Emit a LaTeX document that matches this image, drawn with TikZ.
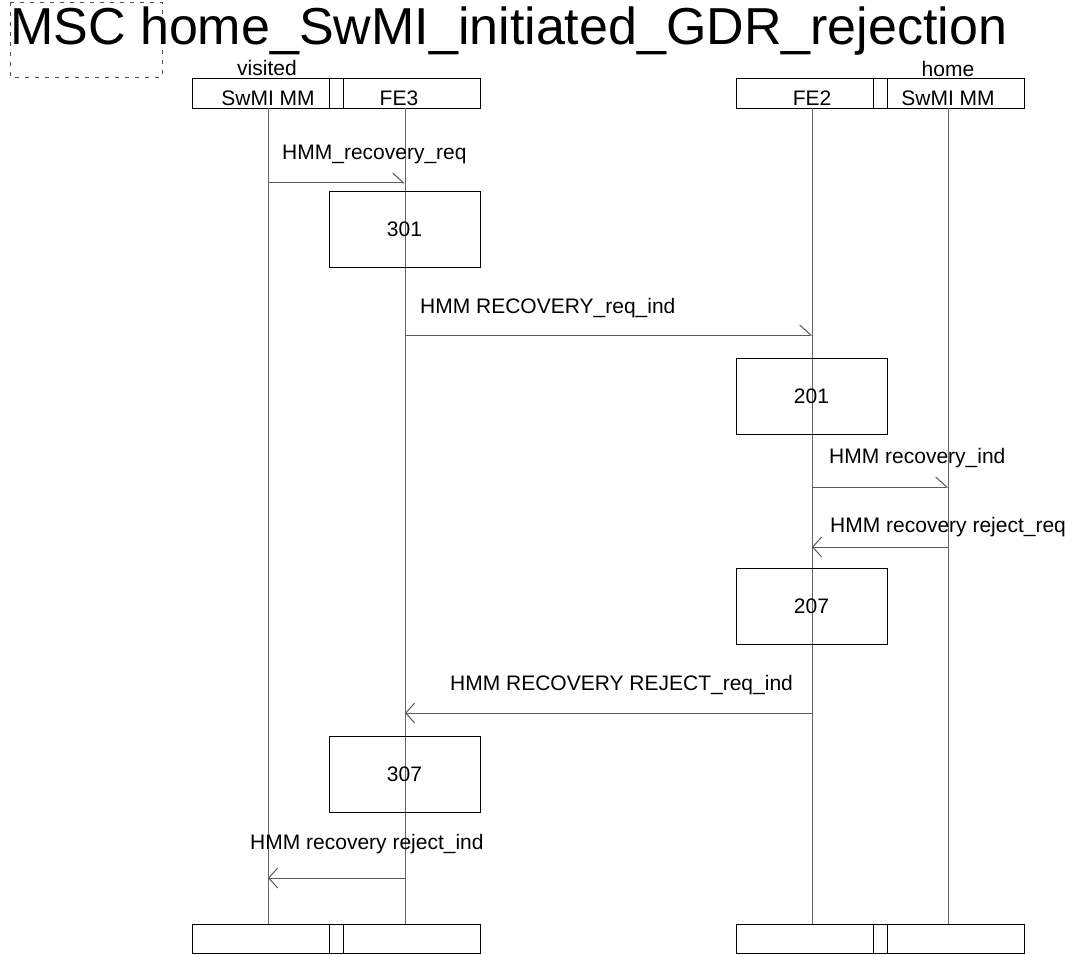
\documentclass[tikz,border=0pt]{standalone}
\usepackage{fontspec}
\setmainfont{Liberation Sans}
\usetikzlibrary{arrows.meta}
\begin{document}
\begin{tikzpicture}[x=1pt,y=-1pt,
  lbl/.style={font=\fontsize{21}{25}\selectfont, inner sep=0pt, anchor=base west},
  ctr/.style={font=\fontsize{21}{25}\selectfont, inner sep=0pt, anchor=base},
  instbox/.style={draw=black, line width=0.9pt},
  actbox/.style={draw=black, line width=0.9pt, minimum width=151pt, minimum height=76pt, inner sep=0pt, font=\fontsize{21}{25}\selectfont},
  life/.style={draw=black!60, line width=1pt},
  msgR/.style={draw=black!65, line width=1pt, -{Straight Barb[left,length=11pt,width=20pt]}},
  msgL/.style={draw=black!65, line width=1pt, -{Straight Barb[length=9pt,width=20pt]}},
]
\useasboundingbox (0,0) rectangle (1077,955);

% title
\draw[black!70, line width=0.8pt, dash pattern=on 4pt off 6pt] (10,2) rectangle (162,77);
\node[font=\fontsize{52}{60}\selectfont, inner sep=0pt, anchor=base west] (title) at (10,45) {MSC home\_SwMI\_initiated\_GDR\_rejection};

% instance heads
\draw[instbox] (192,78) rectangle (480,108);
\draw[instbox] (329,78) rectangle (343,108);
\draw[instbox] (736,78) rectangle (1024,108);
\draw[instbox] (873,78) rectangle (887,108);
\node[ctr] (visited) at (267,76) {visited};
\node[ctr] (home) at (948,77) {home};
\node[ctr] (h1) at (268,106) {SwMI MM};
\node[ctr] (h2) at (399,106) {FE3};
\node[ctr] (h3) at (812,106) {FE2};
\node[ctr] (h4) at (948,106) {SwMI MM};

% instance ends
\draw[instbox] (192,924) rectangle (480,953);
\draw[instbox] (329,924) rectangle (343,953);
\draw[instbox] (736,924) rectangle (1024,953);
\draw[instbox] (873,924) rectangle (887,953);

% lifelines
\coordinate (l1t) at (268,108); \coordinate (l1b) at (268,924);
\coordinate (l2t) at (405,108); \coordinate (l2b) at (405,924);
\coordinate (l3t) at (812,108); \coordinate (l3b) at (812,924);
\coordinate (l4t) at (948,108); \coordinate (l4b) at (948,924);
\draw[life] (l1t) -- (l1b);
\draw[life] (l2t) -- (l2b);
\draw[life] (l3t) -- (l3b);
\draw[life] (l4t) -- (l4b);

% action boxes
\node[actbox] (a301) at (404.5,229) {301};
\node[actbox] (a201) at (811.5,396) {201};
\node[actbox] (a207) at (811.5,606) {207};
\node[actbox] (a307) at (404.5,774) {307};

% messages
\coordinate (m1a) at (268,183); \coordinate (m1b) at (405,183);
\draw[msgR] (m1a) -- (m1b);
\node[lbl] (t1) at (282,160) {HMM\_recovery\_req};

\coordinate (m2a) at (405,335); \coordinate (m2b) at (812,335);
\draw[msgR] (m2a) -- (m2b);
\node[lbl] (t2) at (420,313) {HMM RECOVERY\_req\_ind};

\coordinate (m3a) at (812,487); \coordinate (m3b) at (948,487);
\draw[msgR] (m3a) -- (m3b);
\node[lbl] (t3) at (829,463) {HMM recovery\_ind};

\coordinate (m4a) at (948,547); \coordinate (m4b) at (812,547);
\draw[msgL] (m4a) -- (m4b);
\node[lbl] (t4) at (830,532) {HMM recovery reject\_req};

\coordinate (m5a) at (812,713); \coordinate (m5b) at (405,713);
\draw[msgL] (m5a) -- (m5b);
\node[lbl] (t5) at (450,690) {HMM RECOVERY REJECT\_req\_ind};

\coordinate (m6a) at (405,878); \coordinate (m6b) at (268,878);
\draw[msgL] (m6a) -- (m6b);
\node[lbl] (t6) at (250,849) {HMM recovery reject\_ind};
\end{tikzpicture}
\end{document}
